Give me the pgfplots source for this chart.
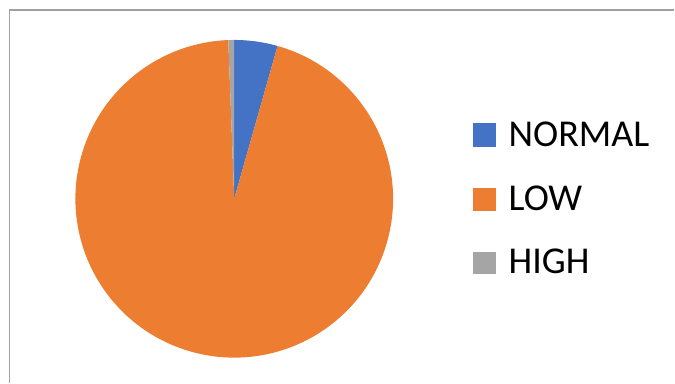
\documentclass[border=0pt]{standalone}
\usepackage{pgfplots}
\pgfplotsset{compat=1.18}
\usepackage{fontspec}
\setmainfont{Carlito}
\definecolor{cnormal}{HTML}{4472C4}
\definecolor{clow}{HTML}{ED7D31}
\definecolor{chigh}{HTML}{A5A5A5}
\definecolor{frame}{HTML}{A0A0A0}
\begin{document}
\begin{tikzpicture}
\begin{axis}[
  scale only axis, width=675pt, height=383pt,
  xmin=0, xmax=675, ymin=0, ymax=383,
  hide axis, clip=false]
% pie values (percent): NORMAL 4.4, LOW 95.0, HIGH 0.6 ; start at 90 deg, clockwise
\path (axis cs:0,0) rectangle (axis cs:675,383);
\draw[frame, line width=1.5pt] (axis cs:9.5,0) -- (axis cs:9.5,373) -- (axis cs:675,373);
\fill[cnormal] (axis cs:234.5,184) -- ++(90:159pt) arc[start angle=90, end angle=74.16, radius=159pt] -- cycle;
\fill[clow] (axis cs:234.5,184) -- ++(74.16:159pt) arc[start angle=74.16, end angle=-267.84, radius=159pt] -- cycle;
\fill[chigh] (axis cs:234.5,184) -- ++(92.16:159pt) arc[start angle=92.16, end angle=90, radius=159pt] -- cycle;
\fill[cnormal] (axis cs:474,236) rectangle (axis cs:497,260);
\fill[clow] (axis cs:474,172) rectangle (axis cs:497,195);
\fill[chigh] (axis cs:474,109) rectangle (axis cs:497,131);
\node[anchor=base west, inner sep=0pt, font=\fontsize{38}{41}\selectfont] at (axis cs:509,236) {NORMAL};
\node[anchor=base west, inner sep=0pt, font=\fontsize{38}{41}\selectfont] at (axis cs:509,172) {LOW};
\node[anchor=base west, inner sep=0pt, font=\fontsize{38}{41}\selectfont] at (axis cs:509,109) {HIGH};
\end{axis}
\end{tikzpicture}
\end{document}
